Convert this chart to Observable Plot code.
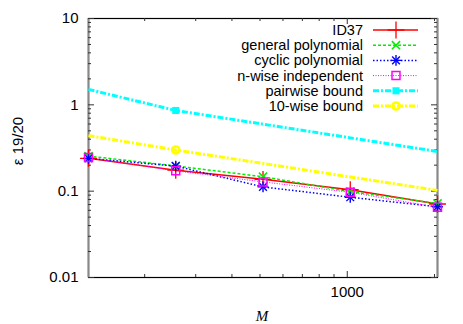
<!DOCTYPE html>
<html><head><meta charset="utf-8">
<script src="https://cdn.jsdelivr.net/npm/d3@7"></script>
<script src="https://cdn.jsdelivr.net/npm/@observablehq/plot@0.6"></script>
<style>
body{margin:0;background:#fff}
svg{font-family:"Liberation Sans",Arial,Helvetica,sans-serif}
</style>
</head><body><div id="chart"></div>
<script>
// ---- data ----
const M = [128, 256, 512, 1024, 2048];
const id37 = [0.240, 0.175, 0.137, 0.104, 0.071];
const generalPoly = [0.255, 0.196, 0.147, 0.099, 0.072];
const cyclicPoly = [0.240, 0.195, 0.112, 0.085, 0.066];
const nwise = [0.245, 0.172, 0.128, 0.097, 0.065];
const boundM = [128, 256, 2048];
const pairwise = [1.51, 0.86, 0.288];
const tenwise = [0.44, 0.30, 0.102];
const boundMarkerM = [256];
const seriesNames = ["ID37", "general polynomial", "cyclic polynomial", "n-wise independent", "pairwise bound", "10-wise bound"];
const xMajorTicks = [1000];
const xMinorTicks = [200, 300, 400, 500, 600, 700, 800, 900, 2000];
const yMajorTicks = [0.01, 0.1, 1, 10];
const yMinorTicks = [0.02,0.03,0.04,0.05,0.06,0.07,0.08,0.09,0.2,0.3,0.4,0.5,0.6,0.7,0.8,0.9,2,3,4,5,6,7,8,9];
const xLabel = "M";
const yLabel = "ε 19/20";

// ---- styles ----
const styles = [
  {color:"#ff0000", width:1.5, dash:null, sym:["plus"], r:5.5, fill:"none", sw:1.3},
  {color:"#00ee00", width:1.5, dash:"3,2", sym:["times"], r:3.8, fill:"none", sw:1.5},
  {color:"#0000ff", width:1.5, dash:"1.5,2", sym:["plus","times"], r:3.6, fill:"none", sw:1.4},
  {color:"#ff00ff", width:1, dash:"1,1.5", sym:["square"], r:4.5, fill:"none", sw:1.5},
  {color:"#00ffff", width:3, dash:"6,2,2,2", sym:["square"], r:4, fill:"#00ffff", sw:0},
  {color:"#ffff00", width:3, dash:"6,2,2,2", sym:["circle"], r:3.6, fill:"none", sw:2.5}
];

const rows = (xs, ys, k) => xs.map((m, i) => ({M: m, v: ys[i], s: k}));
const main = [id37, generalPoly, cyclicPoly, nwise].map((ys, k) => rows(M, ys, k));
const bounds = [pairwise, tenwise].map((ys, k) => rows(boundM, ys, k + 4));

const W = 463, H = 324, mL = 88, mR = 26, mT = 18, mB = 47;
const fw = W - mL - mR, fh = H - mT - mB;

const marks = [];
marks.push(Plot.frame({stroke: "#000", strokeWidth: 1.2}));
marks.push(Plot.ruleX([M[0], M[M.length-1]], {stroke: "#888", strokeWidth: 2}));
// ticks
marks.push(Plot.tickY(yMajorTicks, {y: d => d, insetRight: fw - 6, stroke: "#333"}));
marks.push(Plot.tickY(yMajorTicks, {y: d => d, insetLeft: fw - 6, stroke: "#333"}));
marks.push(Plot.tickY(yMinorTicks, {y: d => d, insetRight: fw - 3, stroke: "#333"}));
marks.push(Plot.tickY(yMinorTicks, {y: d => d, insetLeft: fw - 3, stroke: "#333"}));
marks.push(Plot.tickX(xMajorTicks, {x: d => d, insetTop: fh - 6, stroke: "#333"}));
marks.push(Plot.tickX(xMajorTicks, {x: d => d, insetBottom: fh - 6, stroke: "#333"}));
marks.push(Plot.tickX(xMinorTicks, {x: d => d, insetTop: fh - 3, stroke: "#333"}));
marks.push(Plot.tickX(xMinorTicks, {x: d => d, insetBottom: fh - 3, stroke: "#333"}));

// lines
const allSeries = [...bounds, ...main];
for (const data of allSeries) {
  const st = styles[data[0].s];
  marks.push(Plot.line(data, {x: "M", y: "v", stroke: st.color, strokeWidth: st.width, strokeDasharray: st.dash, strokeLinecap: "butt", strokeLinejoin: "miter"}));
}
// markers
const drawMarkers = (data, st) => {
  for (const sym of st.sym) {
    marks.push(Plot.dot(data, {x: "M", y: "v", symbol: sym, r: st.r, stroke: st.sw ? st.color : "none", strokeWidth: st.sw, fill: st.fill}));
  }
};
bounds.forEach(d => drawMarkers(d.filter(p => boundMarkerM.includes(p.M)), styles[d[0].s]));
main.forEach(d => drawMarkers(d, styles[d[0].s]));

// axis labels
marks.push(Plot.axisY(yMajorTicks, {tickSize: 0, tickPadding: 10, tickFormat: d => String(d), fontSize: 15, label: null}));
marks.push(Plot.axisX(xMajorTicks, {tickSize: 0, tickPadding: 9, tickFormat: d => String(d), fontSize: 15, label: null}));

const svg = Plot.plot({
  width: W, height: H,
  marginLeft: mL, marginRight: mR, marginTop: mT, marginBottom: mB,
  style: {fontFamily: '"Liberation Sans", Arial, sans-serif', fontSize: "15px", color: "#000", background: "#fff"},
  x: {type: "log", domain: [M[0], M[M.length-1]]},
  y: {type: "log", domain: [yMajorTicks[0], yMajorTicks[yMajorTicks.length-1]]},
  marks
});

const g = d3.select(svg).append("g");
g.append("text").attr("x", 262).attr("y", 321).attr("text-anchor", "middle")
  .attr("font-family", '"Liberation Serif", serif').attr("font-style", "italic").attr("font-size", 15).text(xLabel);
g.append("text").attr("transform", "translate(23,141) rotate(-90)").attr("text-anchor", "middle")
  .attr("font-size", 15).text(yLabel);

const lg = g.append("g");
seriesNames.forEach((name, i) => {
  const st = styles[i];
  const y = 30 + i * 15.2;
  lg.append("text").attr("x", 363).attr("y", y).attr("dy", "0.35em").attr("text-anchor", "end").attr("font-size", 14.5).text(name);
  lg.append("line").attr("x1", 373).attr("x2", 418).attr("y1", y).attr("y2", y)
    .attr("stroke", st.color).attr("stroke-width", st.width).attr("stroke-dasharray", st.dash);
  for (const sym of st.sym) {
    const symType = {plus: d3.symbolPlus, times: d3.symbolTimes, square: d3.symbolSquare, circle: d3.symbolCircle}[sym];
    lg.append("path").attr("transform", `translate(396,${y})`)
      .attr("d", d3.symbol(symType, Math.PI * st.r * st.r)())
      .attr("stroke", st.sw ? st.color : "none").attr("stroke-width", st.sw).attr("fill", st.fill);
  }
});

document.getElementById("chart").appendChild(svg);
</script>
</body></html>
